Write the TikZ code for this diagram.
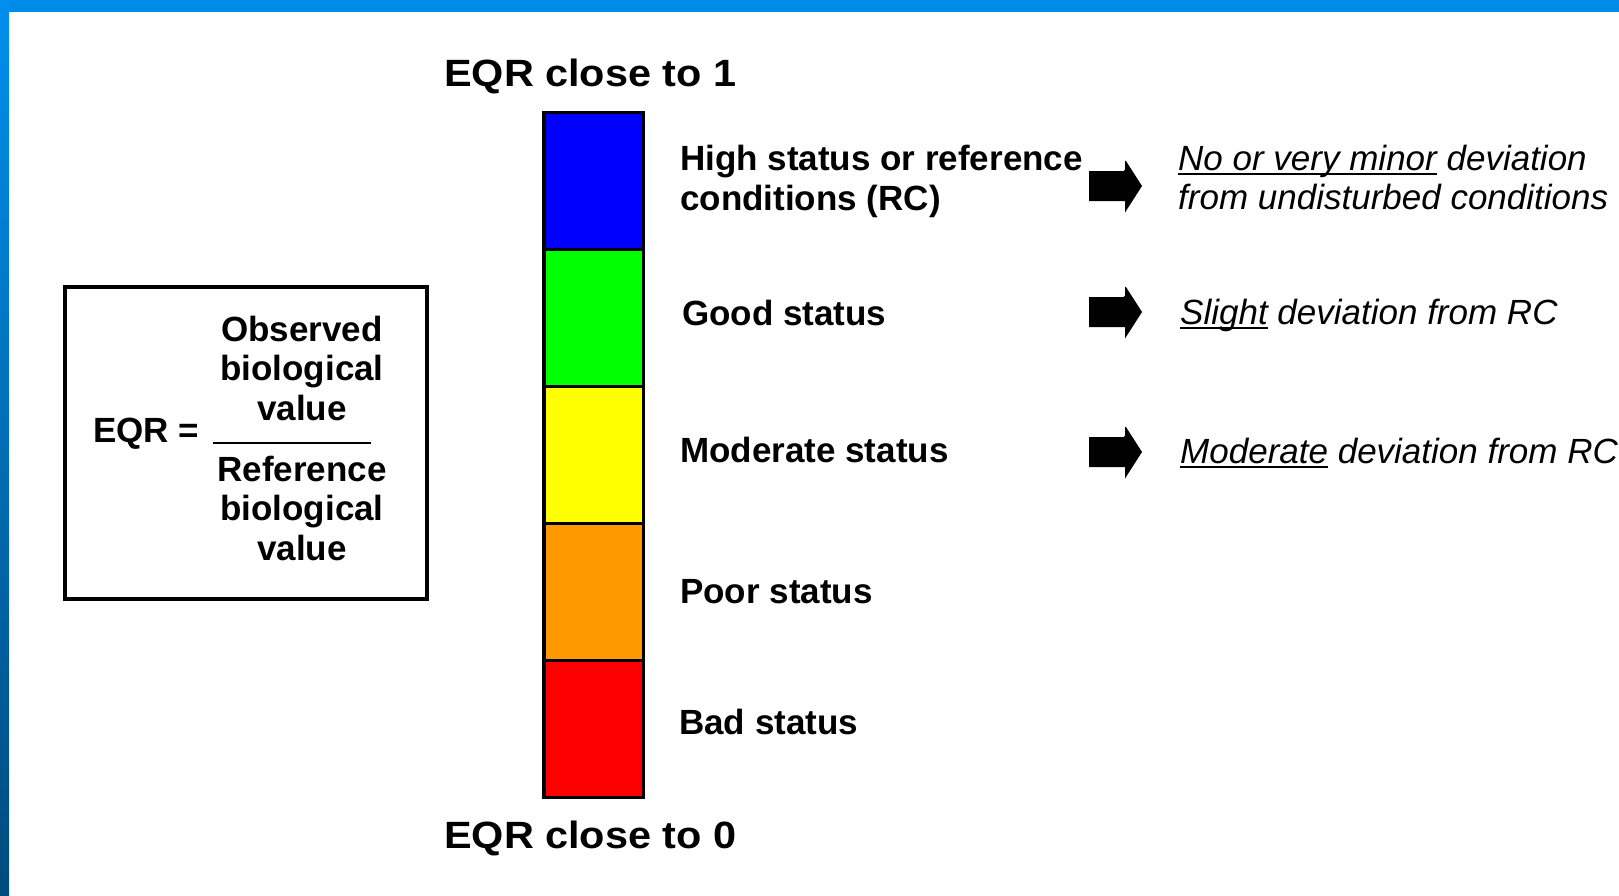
\documentclass[tikz,border=0pt]{standalone}
\usepackage{fontspec}
\setmainfont{Liberation Sans}
\newfontfamily\widefont[FakeStretch=1.09]{Liberation Sans}
\newsavebox{\myulbox}
\newcommand{\myul}[1]{\sbox{\myulbox}{#1}\rlap{\rule[-4.5pt]{\wd\myulbox}{2pt}}\usebox{\myulbox}}
\definecolor{topbar}{HTML}{008BE9}
\definecolor{sidetop}{HTML}{008FEE}
\definecolor{sidebot}{HTML}{004B7D}
\definecolor{qblue}{HTML}{0000FF}
\definecolor{qgreen}{HTML}{00FF00}
\definecolor{qyellow}{HTML}{FFFF00}
\definecolor{qorange}{HTML}{FF9900}
\definecolor{qred}{HTML}{FF0000}
\tikzset{
  lbl/.style={anchor=base west, inner sep=0pt, align=left, font=\bfseries\fontsize{35}{39.5}\selectfont},
  desc/.style={anchor=base west, inner sep=0pt, align=left, font=\itshape\fontsize{35}{39}\selectfont},
  ttl/.style={anchor=base west, inner sep=0pt, font=\widefont\bfseries\fontsize{38}{46}\selectfont},
  frac/.style={anchor=center, inner sep=0pt, align=center, font=\bfseries\fontsize{35}{39.5}\selectfont},
  seg/.style={draw=black, line width=3.5pt, minimum width=99.5pt, minimum height=137pt, inner sep=0pt},
  barrow/.pic={\fill[black, rounded corners=1.5pt] (-26,-15) -- (10,-15) -- (10,-26.5) [sharp corners] -- (27,0) -- (10,26.5) -- (10,15) -- (-26,15) -- cycle;}
}
\begin{document}
\begin{tikzpicture}[x=1pt,y=-1pt]
\useasboundingbox (0,0) rectangle (1619,895);
\fill[white] (0,0) rectangle (1619,895);
\fill[topbar] (0,0) rectangle (1619,12);
\shade[top color=sidetop, bottom color=sidebot] (0,0) rectangle (9,895);

% colour scale
\node[seg, fill=qblue]   (s1) at (593.5,181) {};
\node[seg, fill=qgreen]  (s2) at (593.5,318) {};
\node[seg, fill=qyellow] (s3) at (593.5,455) {};
\node[seg, fill=qorange] (s4) at (593.5,592) {};
\node[seg, fill=qred]    (s5) at (593.5,729) {};

\node[ttl] (t1) at (444,86) {EQR close to 1};
\node[ttl] (t0) at (444,848) {EQR close to 0};

% status labels
\node[lbl] (l1) at (680,210) {High status or reference\\conditions (RC)};
\node[lbl] (l2) at (682,325.5) {Good status};
\node[lbl] (l3) at (680,462.5) {Moderate status};
\node[lbl] (l4) at (680,603.5) {Poor status};
\node[lbl] (l5) at (679,734.5) {Bad status};

% arrows
\pic at (1115,186) {barrow};
\pic at (1115,312) {barrow};
\pic at (1115,452) {barrow};

% descriptions
\node[desc] (d1) at (1178,209.5) {\myul{No or very minor} deviation\\from undisturbed conditions};
\node[desc] (d2) at (1180,324.5) {\myul{Slight} deviation from RC};
\node[desc] (d3) at (1180,463.5) {\myul{Moderate} deviation from RC};

% EQR formula box
\node[draw=black, line width=3.5pt, minimum width=362pt, minimum height=312pt, inner sep=0pt] (box) at (246,443) {};
\node[lbl] (eqr) at (93,442) {EQR =};
\node[frac] (num) at (302,368) {Observed\\biological\\value};
\node[frac] (den) at (302,508) {Reference\\biological\\value};
\draw[line width=2.5pt] (213,443) -- (371,443);
\end{tikzpicture}
\end{document}
